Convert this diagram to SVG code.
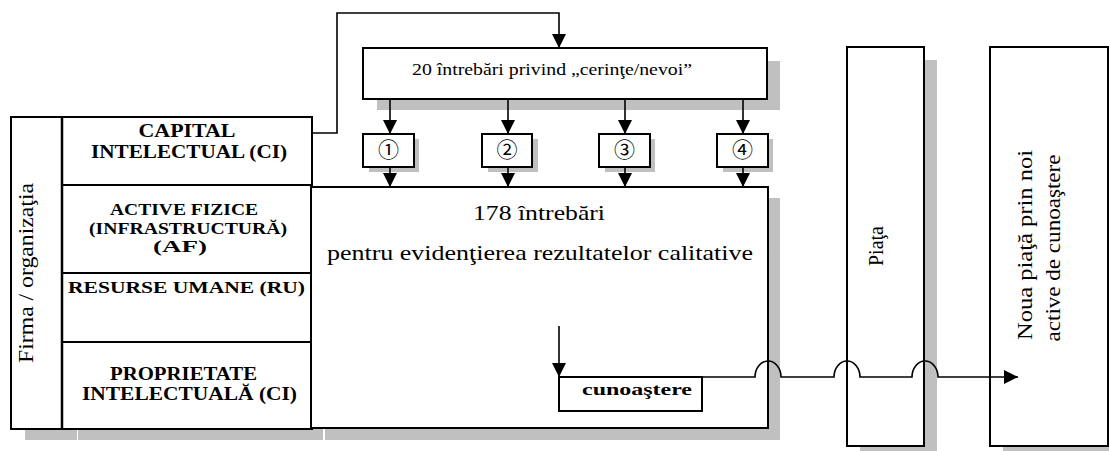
<svg xmlns="http://www.w3.org/2000/svg" width="1109" height="451" viewBox="0 0 1109 451">
<style>
.box{fill:#fff;stroke:#000;stroke-width:2}
.thick{fill:none;stroke:#000;stroke-width:2.5}
.sh{fill:#c0c0c0}
.ln{fill:none;stroke:#000;stroke-width:1.6}
</style>
<defs>
<marker id="ah" markerUnits="userSpaceOnUse" markerWidth="14" markerHeight="14" viewBox="0 0 14 14" refX="14" refY="7" orient="auto">
<path d="M0,0 L14,7 L0,14 Z" fill="#000"/>
</marker>
</defs>
<rect width="1109" height="451" fill="#fff"/>

<g id="shadows">
<rect class="sh" x="25" y="429" width="52" height="11"/>
<rect class="sh" x="78" y="429" width="245" height="11"/>
<rect class="sh" x="325" y="429" width="455" height="11"/>
<rect class="sh" x="768" y="198" width="12" height="242"/>
<rect class="sh" x="377" y="61" width="403" height="49"/>
<rect class="sh" x="369" y="139" width="50" height="33"/>
<rect class="sh" x="488" y="139" width="50" height="33"/>
<rect class="sh" x="605" y="139" width="50" height="33"/>
<rect class="sh" x="723" y="139" width="50" height="33"/>
<rect class="sh" x="572" y="389" width="143" height="34"/>
<rect class="sh" x="860" y="60" width="77" height="391"/>
<rect class="sh" x="1003" y="60" width="106" height="391"/>
</g>

<g id="firma">
<rect class="box" x="11" y="117" width="51" height="312"/>
<text font-family="'Liberation Serif', serif" font-size="22" transform="translate(33,273) rotate(-90)" text-anchor="middle" textLength="180" lengthAdjust="spacingAndGlyphs">Firma / organizaţia</text>
</g>
<g id="ci">
<rect class="box" x="62" y="117" width="250" height="68"/>
<text font-family="'Liberation Serif', serif" font-weight="bold" text-anchor="middle" x="187" y="137" font-size="19" textLength="97" lengthAdjust="spacingAndGlyphs">CAPITAL</text>
<text font-family="'Liberation Serif', serif" font-weight="bold" text-anchor="middle" x="189" y="158" font-size="19" textLength="196" lengthAdjust="spacingAndGlyphs">INTELECTUAL (CI)</text>
</g>
<g id="af">
<rect class="box" x="62" y="185" width="250" height="88"/>
<text font-family="'Liberation Serif', serif" font-weight="bold" text-anchor="middle" x="184" y="215" font-size="17.5" textLength="148" lengthAdjust="spacingAndGlyphs">ACTIVE FIZICE</text>
<text font-family="'Liberation Serif', serif" font-weight="bold" text-anchor="middle" x="188" y="234" font-size="17.5" textLength="198" lengthAdjust="spacingAndGlyphs">(INFRASTRUCTURĂ)</text>
<text font-family="'Liberation Serif', serif" font-weight="bold" text-anchor="middle" x="180" y="252" font-size="17.5" textLength="54" lengthAdjust="spacingAndGlyphs">(AF)</text>
</g>
<g id="ru">
<rect class="box" x="62" y="273" width="250" height="69"/>
<text font-family="'Liberation Serif', serif" font-weight="bold" text-anchor="middle" x="186.5" y="293" font-size="17.5" textLength="237" lengthAdjust="spacingAndGlyphs">RESURSE UMANE (RU)</text>
</g>
<g id="pi">
<rect class="box" x="62" y="342" width="250" height="87"/>
<text font-family="'Liberation Serif', serif" font-weight="bold" text-anchor="middle" x="183.5" y="380" font-size="19" textLength="147" lengthAdjust="spacingAndGlyphs">PROPRIETATE</text>
<text font-family="'Liberation Serif', serif" font-weight="bold" text-anchor="middle" x="189.5" y="400" font-size="19" textLength="215" lengthAdjust="spacingAndGlyphs">INTELECTUALĂ (CI)</text>
</g>
<line class="thick" x1="62" y1="117" x2="62" y2="429"/>

<g id="main">
<rect class="box" x="311" y="187" width="457" height="241"/>
<text font-family="'Liberation Serif', serif" text-anchor="middle" x="539" y="220" font-size="21" textLength="132" lengthAdjust="spacingAndGlyphs">178 întrebări</text>
<text font-family="'Liberation Serif', serif" text-anchor="middle" x="540" y="260" font-size="21" textLength="426" lengthAdjust="spacingAndGlyphs">pentru evidenţierea rezultatelor calitative</text>
</g>

<g id="top">
<rect class="box" x="363" y="48" width="404" height="51"/>
<text font-family="'Liberation Serif', serif" text-anchor="middle" x="552" y="75" font-size="17" textLength="280" lengthAdjust="spacingAndGlyphs">20 întrebări privind „cerinţe/nevoi”</text>
</g>

<g id="n1"><rect class="box" x="363" y="134" width="51" height="33"/><text font-family="'Noto Sans CJK JP', sans-serif" font-size="21" x="388.5" y="157" text-anchor="middle">①</text></g>
<g id="n2"><rect class="box" x="482" y="134" width="50" height="33"/><text font-family="'Noto Sans CJK JP', sans-serif" font-size="21" x="507" y="157" text-anchor="middle">②</text></g>
<g id="n3"><rect class="box" x="599" y="134" width="51" height="33"/><text font-family="'Noto Sans CJK JP', sans-serif" font-size="21" x="624.5" y="157" text-anchor="middle">③</text></g>
<g id="n4"><rect class="box" x="717" y="134" width="51" height="33"/><text font-family="'Noto Sans CJK JP', sans-serif" font-size="21" x="742.5" y="157" text-anchor="middle">④</text></g>

<g id="cunoastere">
<rect class="box" x="559" y="377" width="143" height="34"/>
<text font-family="'Liberation Serif', serif" font-weight="bold" font-size="16" x="637" y="395" text-anchor="middle" textLength="110" lengthAdjust="spacingAndGlyphs">cunoaştere</text>
</g>

<g id="piata">
<rect class="box" x="847" y="47" width="77" height="399"/>
<text font-family="'Liberation Serif', serif" font-size="20" transform="translate(883,246) rotate(-90)" text-anchor="middle">Piaţa</text>
</g>

<g id="noua">
<rect class="box" x="990" y="47" width="118" height="399"/>
<text font-family="'Liberation Serif', serif" font-size="21" text-anchor="middle" transform="translate(1032,245) rotate(-90)" textLength="190" lengthAdjust="spacingAndGlyphs">Noua piaţă  prin noi</text>
<text font-family="'Liberation Serif', serif" font-size="21" text-anchor="middle" transform="translate(1060,248) rotate(-90)" textLength="187" lengthAdjust="spacingAndGlyphs">active de cunoaştere</text>
</g>

<g id="connectors">
<path class="ln" d="M312,133 H337 V13 H559 V48" marker-end="url(#ah)"/>
<path class="ln" d="M390,99 V134" marker-end="url(#ah)"/>
<path class="ln" d="M508,99 V134" marker-end="url(#ah)"/>
<path class="ln" d="M625,99 V134" marker-end="url(#ah)"/>
<path class="ln" d="M743,99 V134" marker-end="url(#ah)"/>
<path class="ln" d="M390,167 V187" marker-end="url(#ah)"/>
<path class="ln" d="M508,167 V187" marker-end="url(#ah)"/>
<path class="ln" d="M625,167 V187" marker-end="url(#ah)"/>
<path class="ln" d="M743,167 V187" marker-end="url(#ah)"/>
<path class="ln" d="M559,326 V377" marker-end="url(#ah)"/>
<path class="ln" d="M702,377 H755 A13,16 0 0 1 781,377 H834 A13,16 0 0 1 860,377 H912 A13,16 0 0 1 938,377 H1018" marker-end="url(#ah)"/>
</g>
</svg>
